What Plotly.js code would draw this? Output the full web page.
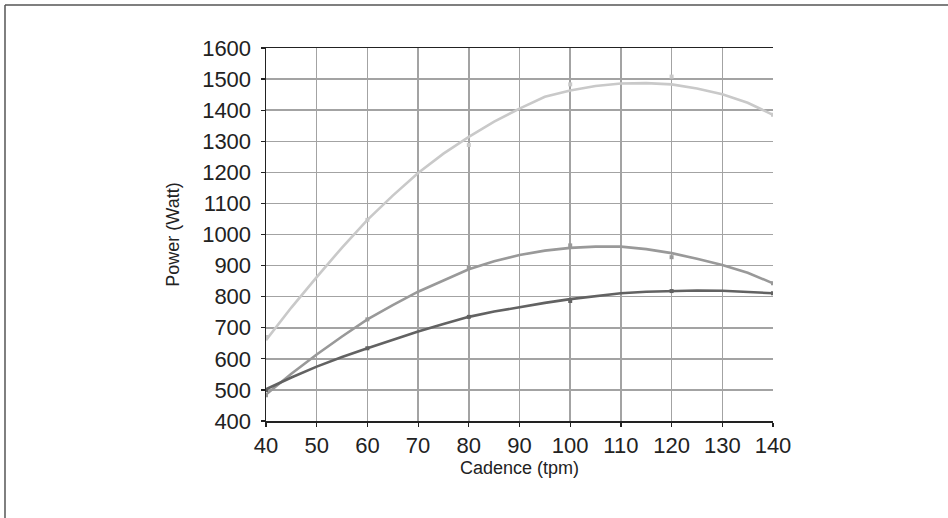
<!DOCTYPE html>
<html>
<head>
<meta charset="utf-8">
<script src="https://cdn.plot.ly/plotly-3.0.1.min.js"></script>
<style>html,body{margin:0;padding:0;background:#fff;}#chart{width:948px;height:518px;}</style>
</head>
<body>
<div id="chart"></div>
<script>
// Trendline cadence values (tpm)
const trendCadence = [40,45,50,55,60,65,70,75,80,85,90,95,100,105,110,115,120,125,130,135,140];
const lightTrend  = [660,765,863,958,1047,1125,1198,1260,1314,1363,1405,1443,1463,1478,1486,1487,1483,1470,1451,1424,1385];
const middleTrend = [485,552,614,672,727,773,816,853,888,914,934,948,957,961,961,953,940,922,902,877,843];
const darkTrend   = [502,540,575,606,634,662,688,712,735,752,767,780,792,802,811,816,819,820,819,816,811];

// Measured points
const pointCadence = [40,60,80,100,120,140];
const lightPoints  = [670,1047,1288,1483,1508,1385];
const middlePoints = [483,727,893,965,927,843];
const darkPoints   = [500,634,735,786,818,811];

const xTicks = [40,50,60,70,80,90,100,110,120,130,140];
const yTicks = [400,500,600,700,800,900,1000,1100,1200,1300,1400,1500,1600];

const colors = {light:'#c9c9c9', middle:'#999999', dark:'#626262'};

function trend(y, c){ return {x:trendCadence, y:y, mode:'lines', line:{color:c, width:2.6}, hoverinfo:'skip', showlegend:false}; }
function pts(y, c){ return {x:pointCadence, y:y, mode:'markers', marker:{color:c, size:4, symbol:'square'}, showlegend:false}; }

const data = [
  trend(lightTrend, colors.light), pts(lightPoints, colors.light),
  trend(middleTrend, colors.middle), pts(middlePoints, colors.middle),
  trend(darkTrend, colors.dark), pts(darkPoints, colors.dark)
];

const font = {family:'"Liberation Sans", Arial, Helvetica, sans-serif', color:'#222'};
const layout = {
  width:948, height:518,
  margin:{l:266, r:175, t:48, b:97},
  paper_bgcolor:'#fff', plot_bgcolor:'#fff',
  font:font,
  xaxis:{
    range:[40,140], tickvals:xTicks, ticktext:xTicks.map(String),
    showgrid:true, gridcolor:'#a3a3a3', gridwidth:1.5,
    showline:true, linecolor:'#222', linewidth:1.5, mirror:true,
    ticks:'outside', ticklen:4, tickcolor:'#222', tickwidth:1.2,
    tickfont:{family:font.family, size:22, color:'#222'},
    zeroline:false,
    title:{text:'Cadence (tpm)', font:{family:font.family, size:18, color:'#222'}, standoff:4}
  },
  yaxis:{
    range:[400,1600], tickvals:yTicks, ticktext:yTicks.map(String),
    showgrid:true, gridcolor:'#a3a3a3', gridwidth:1.5,
    showline:true, linecolor:'#222', linewidth:1.5,
    ticks:'outside', ticklen:4, tickcolor:'#222', tickwidth:1.2,
    ticklabelstandoff:5,
    tickfont:{family:font.family, size:22, color:'#222'},
    zeroline:false,
    title:{text:'Power (Watt)', font:{family:font.family, size:18, color:'#222'}, standoff:18}
  },
  shapes:[
    {type:'line', xref:'paper', yref:'paper', x0:-0.5148, x1:1.4, y0:1.1153, y1:1.1153, line:{color:'#555', width:1.5}},
    {type:'line', xref:'paper', yref:'paper', x0:-0.5148, x1:-0.5148, y0:1.1153, y1:-0.35, line:{color:'#555', width:1.5}}
  ]
};
Plotly.newPlot('chart', data, layout, {displayModeBar:false, staticPlot:true});
</script>
</body>
</html>
